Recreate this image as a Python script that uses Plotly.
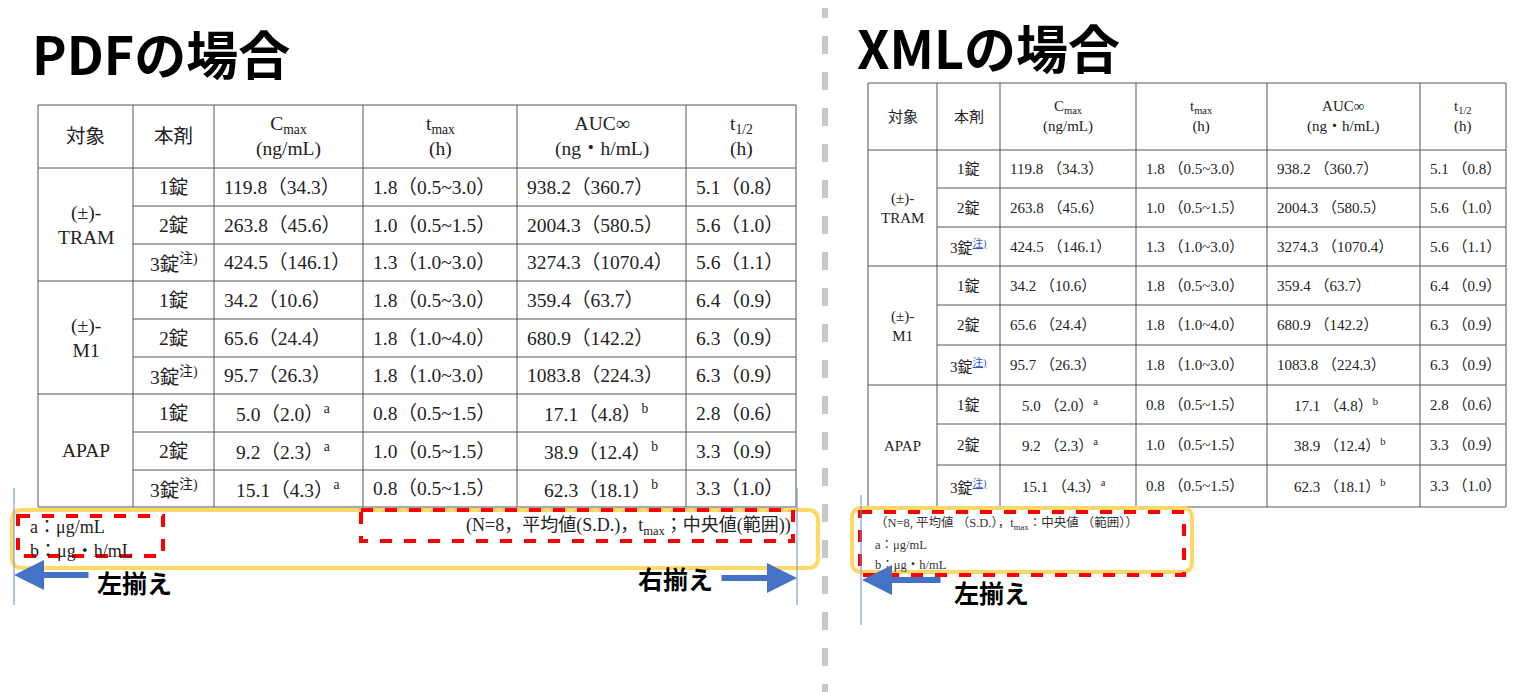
import plotly.graph_objects as go

# ---- data ----
subjects = ["(±)-<br>TRAM", "(±)-<br>M1", "APAP"]
doses = ["1錠", "2錠", "3錠"]
cmax_mean = ["119.8", "263.8", "424.5", "34.2", "65.6", "95.7", "5.0", "9.2", "15.1"]
cmax_sd = ["34.3", "45.6", "146.1", "10.6", "24.4", "26.3", "2.0", "2.3", "4.3"]
cmax_note = ["", "", "", "", "", "", "a", "a", "a"]
tmax_med = ["1.8", "1.0", "1.3", "1.8", "1.8", "1.8", "0.8", "1.0", "0.8"]
tmax_range = ["0.5~3.0", "0.5~1.5", "1.0~3.0", "0.5~3.0", "1.0~4.0", "1.0~3.0", "0.5~1.5", "0.5~1.5", "0.5~1.5"]
auc_mean = ["938.2", "2004.3", "3274.3", "359.4", "680.9", "1083.8", "17.1", "38.9", "62.3"]
auc_sd = ["360.7", "580.5", "1070.4", "63.7", "142.2", "224.3", "4.8", "12.4", "18.1"]
auc_note = ["", "", "", "", "", "", "b", "b", "b"]
thalf_mean = ["5.1", "5.6", "5.6", "6.4", "6.3", "6.3", "2.8", "3.3", "3.3"]
thalf_sd = ["0.8", "1.0", "1.1", "0.9", "0.9", "0.9", "0.6", "0.9", "1.0"]
headers_pdf = ["対象", "本剤", "C<sub>max</sub><br>(ng/mL)", "t<sub>max</sub><br>(h)", "AUC∞<br>(ng・h/mL)", "t<sub>1/2</sub><br>(h)"]
headers_xml = ["対象", "本剤", "C<sub>max</sub><br>(ng/mL)", "t<sub>max</sub><br>(h)", "AUC∞<br>(ng・h/mL)", "t<sub>1/2</sub><br>(h)"]
titles = ["PDFの場合", "XMLの場合"]
foot_units = ["a：μg/mL", "b：μg・h/mL"]
foot_pdf = "(N=8，平均値(S.D.)，t<sub>max</sub>；中央値(範囲))"
foot_xml = "（N=8, 平均値 （S.D.），t<sub>max</sub>：中央値 （範囲））"
align_labels = ["左揃え", "右揃え"]

SERIF = "Liberation Serif, Noto Sans CJK JP"
SANS = "Noto Sans CJK JP, Noto Sans"

fig = go.Figure()
shapes = []
ann = []

def line(x0, y0, x1, y1, color="#555", width=1, dash=None):
    d = dict(type="line", xref="x", yref="y", x0=x0, y0=y0, x1=x1, y1=y1,
             line=dict(color=color, width=width))
    if dash:
        d["line"]["dash"] = dash
    shapes.append(d)

def text(x, y, s, size, xanchor="left", color="#222", family=SERIF, bold=False):
    if bold:
        s = "<b>" + s + "</b>"
    ann.append(dict(x=x, y=y, xref="x", yref="y", text=s, showarrow=False,
                    xanchor=xanchor, yanchor="middle", align=xanchor if xanchor != "center" else "center",
                    font=dict(size=size, color=color, family=family)))

def rrect(x0, y0, x1, y1, r, color, width):
    p = (f"M{x0+r},{y0} L{x1-r},{y0} Q{x1},{y0} {x1},{y0+r} L{x1},{y1-r} Q{x1},{y1} {x1-r},{y1} "
         f"L{x0+r},{y1} Q{x0},{y1} {x0},{y1-r} L{x0},{y0+r} Q{x0},{y0} {x0+r},{y0} Z")
    shapes.append(dict(type="path", xref="x", yref="y", path=p, line=dict(color=color, width=width)))

def table(xe, ytop, ye, headers, fs, style):
    for x in xe:
        line(x, ytop, x, ye[-1])
    line(xe[0], ytop, xe[-1], ytop)
    for i, y in enumerate(ye):
        x0 = xe[0] if i % 3 == 0 else xe[1]
        line(x0, y, xe[-1], y)
    for j, h in enumerate(headers):
        text((xe[j] + xe[j + 1]) / 2, (ytop + ye[0]) / 2, h, fs, "center")
    for g in range(3):
        yc = (ye[g * 3] + ye[g * 3 + 3]) / 2
        text((xe[0] + xe[1]) / 2, yc, subjects[g], fs, "center")
    for i in range(9):
        yc = (ye[i] + ye[i + 1]) / 2
        d = doses[i % 3]
        if i % 3 == 2:
            if style == "pdf":
                d += "<sup>注)</sup>"
            else:
                d += "<sup><span style='color:#3355cc'><u>注)</u></span></sup>"
        text((xe[1] + xe[2]) / 2, yc, d, fs, "center")
        sep = "" if style == "pdf" else " "
        op, cl = "（", "）"
        c = f"{cmax_mean[i]}{sep}{op}{cmax_sd[i]}{cl}" + (f"<sup>{cmax_note[i]}</sup>" if cmax_note[i] else "")
        t = f"{tmax_med[i]}{sep}{op}{tmax_range[i]}{cl}"
        a = f"{auc_mean[i]}{sep}{op}{auc_sd[i]}{cl}" + (f"<sup>{auc_note[i]}</sup>" if auc_note[i] else "")
        h = f"{thalf_mean[i]}{sep}{op}{thalf_sd[i]}{cl}"
        pad = 8
        cx = xe[2] + (20 if cmax_note[i] else pad)
        ax_ = xe[4] + (25 if auc_note[i] else pad)
        text(cx, yc, c, fs)
        text(xe[3] + pad, yc, t, fs)
        text(ax_, yc, a, fs)
        text(xe[5] + pad, yc, h, fs)

# Left (PDF) table
table([38, 133, 214, 363, 517, 686, 796], 105,
      [168, 206, 244, 281, 319, 357, 394, 432, 470, 507], headers_pdf, 19.5, "pdf")
# Right (XML) table
table([868, 937, 1000, 1136, 1267, 1420, 1506], 83,
      [150, 188, 227, 266, 305, 345, 385, 424, 465, 507], headers_xml, 15, "xml")

# titles
text(30, 52, titles[0], 52, "left", "#000", SANS, True)
text(855, 46, titles[1], 52, "left", "#000", SANS, True)

# divider
line(825, 0, 825, 692, "#c8c8c8", 6, "dash")

# PDF footnotes
shapes.append(dict(type="rect", xref="x", yref="y", x0=12, y0=510, x1=818, y1=568, fillcolor="white", line=dict(width=0)))
rrect(12, 510, 818, 568, 10, "#FFD966", 4)
text(28, 527, foot_units[0], 18)
text(28, 551, foot_units[1], 18)
text(793, 526, foot_pdf, 18, "right")
shapes.append(dict(type="rect", xref="x", yref="y", x0=18, y0=516, x1=163, y1=556, line=dict(color="#ff0000", width=4, dash="dash")))
shapes.append(dict(type="rect", xref="x", yref="y", x0=361, y0=510, x1=793, y1=541, line=dict(color="#ff0000", width=4, dash="dash")))
line(14, 488, 14, 605, "#6d8ad0", 1)
line(797, 488, 797, 605, "#6d8ad0", 1)
ann.append(dict(x=14, y=575, ax=90, ay=575, xref="x", yref="y", axref="x", ayref="y", showarrow=True,
                arrowhead=2, arrowsize=1, arrowwidth=6, arrowcolor="#4472C4", text=""))
ann.append(dict(x=797, y=578, ax=720, ay=578, xref="x", yref="y", axref="x", ayref="y", showarrow=True,
                arrowhead=2, arrowsize=1, arrowwidth=6, arrowcolor="#4472C4", text=""))
text(95, 582, align_labels[0], 25, "left", "#000", SANS, True)
text(715, 578, align_labels[1], 25, "right", "#000", SANS, True)

# XML footnotes
rrect(852, 508, 1192, 572, 10, "#FFD966", 4)
text(873, 523, foot_xml, 12.5, "left", "#333")
text(873, 545, foot_units[0], 12.5, "left", "#333")
text(873, 565, foot_units[1], 12.5, "left", "#333")
shapes.append(dict(type="rect", xref="x", yref="y", x0=860, y0=512, x1=1184, y1=575, line=dict(color="#ff0000", width=4, dash="dash")))
line(861, 495, 861, 625, "#6d8ad0", 1)
ann.append(dict(x=862, y=580, ax=942, ay=580, xref="x", yref="y", axref="x", ayref="y", showarrow=True,
                arrowhead=2, arrowsize=1, arrowwidth=6, arrowcolor="#4472C4", text=""))
text(952, 592, align_labels[0], 25, "left", "#000", SANS, True)

# page has an 8px body margin: shift view by 8px and shrink size to keep 1:1 pixel scale
fig.update_layout(width=1528, height=684, margin=dict(l=0, r=0, t=0, b=0),
                  paper_bgcolor="white", plot_bgcolor="white", shapes=shapes, annotations=ann,
                  xaxis=dict(range=[8, 1536], visible=False, fixedrange=True),
                  yaxis=dict(range=[692, 8], visible=False, fixedrange=True),
                  showlegend=False)
fig.write_html("out.html", config={"displayModeBar": False})
